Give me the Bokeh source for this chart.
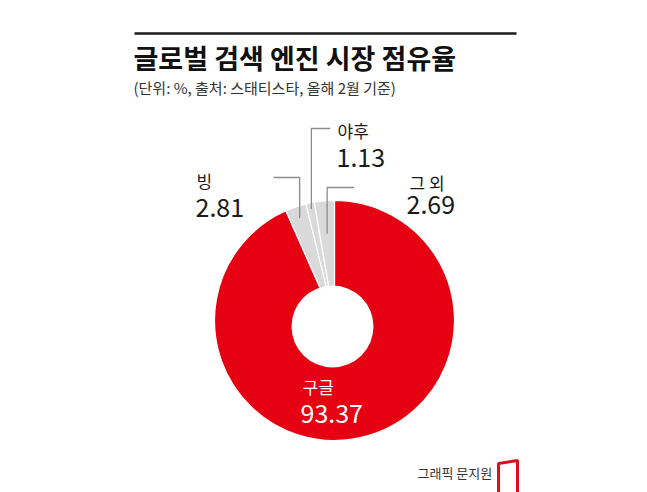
import numpy as np
from bokeh.plotting import figure
from bokeh.models import Range1d, ColumnDataSource
from bokeh.embed import file_html
from bokeh.resources import INLINE
from bokeh.core.properties import value

# ---- data ----
engines = ["구글", "빙", "야후", "그 외"]
shares = [93.37, 2.81, 1.13, 2.69]
colors = ["#e50012", "#d9d9d9", "#d9d9d9", "#d9d9d9"]

title = "글로벌 검색 엔진 시장 점유율"
subtitle = "(단위: %, 출처: 스태티스타, 올해 2월 기준)"
credit = "그래픽 문지원"

FONT = "Noto Sans CJK KR"
W, H = 647, 492


def Y(py):
    return H - py


p = figure(width=W, height=H, x_range=Range1d(0, W), y_range=Range1d(0, H),
           output_backend="svg", toolbar_location=None, min_border=0)
p.axis.visible = False
p.grid.visible = False
p.outline_line_color = None
p.background_fill_color = "white"
p.border_fill_color = "white"

# ---- donut ----
cx, cy = 334, Y(320)
R = 120
frac = np.array(shares) / np.sum(shares)
cum = np.concatenate([[0], np.cumsum(frac)])
start = np.pi / 2 - 2 * np.pi * cum[1:]
end = np.pi / 2 - 2 * np.pi * cum[:-1]
src = ColumnDataSource(dict(x=[cx] * len(shares), y=[cy] * len(shares),
                            start=start, end=end, color=colors))
p.wedge(x="x", y="y", radius=R, start_angle="start", end_angle="end",
        fill_color="color", line_color="white", line_width=1.2, source=src)
p.circle(x=[332], y=[Y(326)], radius=41, fill_color="white", line_color=None)

# ---- leader lines for small slices ----
mid = (start + end) / 2
leader_r = [None, 108, 114, 87]
elbow_py = [None, 177, 128, 187]
horiz_len = [None, -26, 19, 27]
for i in range(1, len(shares)):
    ex = cx + leader_r[i] * np.cos(mid[i])
    ey = cy + leader_r[i] * np.sin(mid[i])
    xs = [ex, ex, ex + horiz_len[i]]
    ys = [ey, Y(elbow_py[i]), Y(elbow_py[i])]
    p.line(xs, ys, line_color="#8c8c8c", line_width=1.3)

# ---- labels ----
name_pos = [(302, 386), (196, 180), (337, 130), (409, 182)]
val_pos = [(300, 413), (195, 207), (336, 157), (406, 204)]
txt_col = ["white", "#1a1a1a", "#1a1a1a", "#1a1a1a"]
for i, nm in enumerate(engines):
    p.text(x=[name_pos[i][0]], y=[Y(name_pos[i][1])], text=[nm],
           text_font=value(FONT), text_font_size="17px", text_color=txt_col[i],
           text_baseline="middle", text_align="left")
    p.text(x=[val_pos[i][0]], y=[Y(val_pos[i][1])], text=[f"{shares[i]:.2f}"],
           text_font=value(FONT), text_font_size="25px", text_color=txt_col[i],
           text_baseline="middle", text_align="left")

# ---- title block ----
p.line([134, 516], [Y(33), Y(33)], line_color="#1a1a1a", line_width=2.5)
p.text(x=[133], y=[Y(57)], text=[title], text_font=value(FONT),
       text_font_size="27px", text_font_style="bold", text_color="#111111",
       text_baseline="middle", text_align="left")
p.text(x=[133], y=[Y(87)], text=[subtitle], text_font=value(FONT),
       text_font_size="15px", text_color="#333333",
       text_baseline="middle", text_align="left")

# ---- credit & logo ----
p.text(x=[417], y=[Y(472)], text=[credit], text_font=value(FONT),
       text_font_size="13px", text_color="#333333",
       text_baseline="middle", text_align="left")
p.patch([498, 517, 517, 498], [Y(463), Y(460), Y(500), Y(500)],
        fill_color=None, line_color="#d8101c", line_width=3)

open("out.html", "w").write(file_html(p, INLINE))
